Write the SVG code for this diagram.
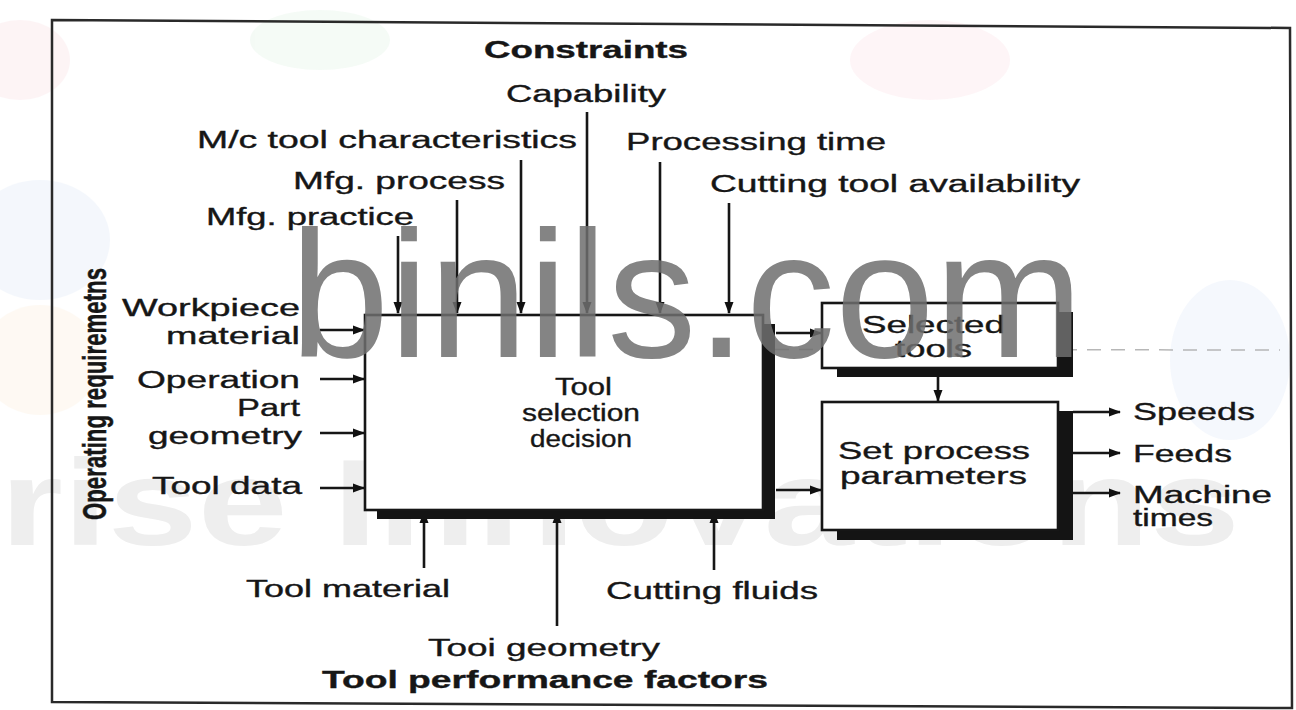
<svg xmlns="http://www.w3.org/2000/svg" width="1296" height="710" viewBox="0 0 1296 710">
<defs>
<marker id="ah" markerUnits="userSpaceOnUse" markerWidth="12" markerHeight="10" refX="11" refY="5" orient="auto">
<path d="M0,0.5 L12,5 L0,9.5 Z" fill="#111"/>
</marker>
<style>
.t{font-family:"Liberation Sans",Arial,Helvetica,sans-serif;font-size:23px;fill:#161616;stroke:#161616;stroke-width:0.35}
.b{font-weight:bold}
.ln{stroke:#161616;stroke-width:2.6;fill:none}
.box{fill:#fff;stroke:#161616;stroke-width:2.6}
.sh{fill:#141414}
</style>
</defs>
<rect width="1296" height="710" fill="#fff"/>
<g opacity="0.05">
<ellipse cx="20" cy="60" rx="50" ry="40" fill="#e8405a"/>
<ellipse cx="320" cy="40" rx="70" ry="30" fill="#3aa856"/>
<ellipse cx="40" cy="240" rx="70" ry="60" fill="#3a7bd5"/>
<ellipse cx="40" cy="360" rx="60" ry="55" fill="#f0a030"/>
<ellipse cx="930" cy="60" rx="80" ry="40" fill="#e8405a"/>
<ellipse cx="1230" cy="360" rx="60" ry="80" fill="#3a7bd5"/>
</g>
<text x="0" y="545" font-family="'Liberation Sans',Arial,sans-serif" font-weight="bold" font-size="122" fill="#eeeeee" textLength="1240" lengthAdjust="spacingAndGlyphs">rise Innovations</text>
<path d="M52,20 L1290,28 L1292,708 L52,702 Z" fill="none" stroke="#2a2a2a" stroke-width="2.5"/>
<line x1="367" y1="349" x2="1280" y2="350" stroke="#9a9a9a" stroke-width="1.5" stroke-dasharray="14 10" opacity="0.7"/>

<g id="connectors">
<line class="ln" x1="398" y1="236" x2="398" y2="313" marker-end="url(#ah)"/>
<line class="ln" x1="457" y1="200" x2="457" y2="313" marker-end="url(#ah)"/>
<line class="ln" x1="521" y1="160" x2="521" y2="313" marker-end="url(#ah)"/>
<line class="ln" x1="587" y1="112" x2="587" y2="313" marker-end="url(#ah)"/>
<line class="ln" x1="660" y1="162" x2="660" y2="313" marker-end="url(#ah)"/>
<line class="ln" x1="729" y1="203" x2="729" y2="313" marker-end="url(#ah)"/>
<line class="ln" x1="320" y1="330" x2="364" y2="330" marker-end="url(#ah)"/>
<line class="ln" x1="320" y1="379" x2="364" y2="379" marker-end="url(#ah)"/>
<line class="ln" x1="320" y1="433" x2="364" y2="433" marker-end="url(#ah)"/>
<line class="ln" x1="320" y1="488" x2="364" y2="488" marker-end="url(#ah)"/>
<line class="ln" x1="424" y1="568" x2="424" y2="512" marker-end="url(#ah)"/>
<line class="ln" x1="557" y1="626" x2="557" y2="512" marker-end="url(#ah)"/>
<line class="ln" x1="714" y1="570" x2="714" y2="512" marker-end="url(#ah)"/>
<line class="ln" x1="776" y1="333" x2="821" y2="333" marker-end="url(#ah)"/>
<line class="ln" x1="776" y1="490" x2="821" y2="490" marker-end="url(#ah)"/>
<line class="ln" x1="938" y1="377" x2="938" y2="401" marker-end="url(#ah)"/>
<line class="ln" x1="1073" y1="412" x2="1120" y2="412" marker-end="url(#ah)"/>
<line class="ln" x1="1073" y1="453" x2="1120" y2="453" marker-end="url(#ah)"/>
<line class="ln" x1="1073" y1="493" x2="1120" y2="493" marker-end="url(#ah)"/>
</g>

<g id="main">
<rect class="sh" x="377" y="324" width="398" height="195"/>
<rect class="box" x="365" y="315" width="398" height="195"/>
<text class="t" x="555" y="395" textLength="57" lengthAdjust="spacingAndGlyphs">Tool</text>
<text class="t" x="522" y="421" textLength="118" lengthAdjust="spacingAndGlyphs">selection</text>
<text class="t" x="530" y="447" textLength="102" lengthAdjust="spacingAndGlyphs">decision</text>
</g>
<g id="selected">
<rect class="sh" x="837" y="312" width="236" height="65"/>
<rect class="box" x="822" y="303" width="236" height="65"/>
<text class="t" x="862" y="333" textLength="143" lengthAdjust="spacingAndGlyphs">Selected</text>
<text class="t" x="895" y="357" textLength="77" lengthAdjust="spacingAndGlyphs">tools</text>
</g>
<g id="setparams">
<rect class="sh" x="837" y="411" width="236" height="129"/>
<rect class="box" x="822" y="402" width="236" height="128"/>
<text class="t" x="838" y="459" textLength="192" lengthAdjust="spacingAndGlyphs">Set process</text>
<text class="t" x="840" y="484" textLength="187" lengthAdjust="spacingAndGlyphs">parameters</text>
</g>

<g id="constraints">
<text class="t b" x="484" y="58" textLength="204" lengthAdjust="spacingAndGlyphs">Constraints</text>
<text class="t" x="506" y="102" textLength="160" lengthAdjust="spacingAndGlyphs">Capability</text>
<text class="t" x="197" y="148" textLength="380" lengthAdjust="spacingAndGlyphs">M/c tool characteristics</text>
<text class="t" x="626" y="150" textLength="260" lengthAdjust="spacingAndGlyphs">Processing time</text>
<text class="t" x="293" y="189" textLength="212" lengthAdjust="spacingAndGlyphs">Mfg. process</text>
<text class="t" x="710" y="192" textLength="370" lengthAdjust="spacingAndGlyphs">Cutting tool availability</text>
<text class="t" x="206" y="225" textLength="208" lengthAdjust="spacingAndGlyphs">Mfg. practice</text>
</g>
<g id="requirements">
<text class="t b" transform="translate(106,520) rotate(-90) scale(1,1.45)" x="0" y="0" textLength="252" lengthAdjust="spacingAndGlyphs">Operating requiremetns</text>
<text class="t" x="122" y="316" textLength="178" lengthAdjust="spacingAndGlyphs">Workpiece</text>
<text class="t" x="166" y="344" textLength="134" lengthAdjust="spacingAndGlyphs">material</text>
<text class="t" x="137" y="388" textLength="163" lengthAdjust="spacingAndGlyphs">Operation</text>
<text class="t" x="237" y="416" textLength="63" lengthAdjust="spacingAndGlyphs">Part</text>
<text class="t" x="148" y="444" textLength="154" lengthAdjust="spacingAndGlyphs">geometry</text>
<text class="t" x="152" y="494" textLength="150" lengthAdjust="spacingAndGlyphs">Tool data</text>
</g>
<g id="outputs">
<text class="t" x="1133" y="420" textLength="122" lengthAdjust="spacingAndGlyphs">Speeds</text>
<text class="t" x="1133" y="462" textLength="99" lengthAdjust="spacingAndGlyphs">Feeds</text>
<text class="t" x="1133" y="503" textLength="139" lengthAdjust="spacingAndGlyphs">Machine</text>
<text class="t" x="1133" y="526" textLength="80" lengthAdjust="spacingAndGlyphs">times</text>
</g>
<g id="performance">
<text class="t" x="246" y="597" textLength="204" lengthAdjust="spacingAndGlyphs">Tool material</text>
<text class="t" x="606" y="599" textLength="212" lengthAdjust="spacingAndGlyphs">Cutting fluids</text>
<text class="t" x="428" y="656" textLength="232" lengthAdjust="spacingAndGlyphs">Tooi geometry</text>
<text class="t b" x="322" y="688" textLength="446" lengthAdjust="spacingAndGlyphs">Tool performance factors</text>
</g>
<text x="290" y="357" font-family="'Liberation Sans',Arial,sans-serif" font-size="180" fill="#6f6f6f" opacity="0.85" textLength="793" lengthAdjust="spacingAndGlyphs">binils.com</text>
</svg>
